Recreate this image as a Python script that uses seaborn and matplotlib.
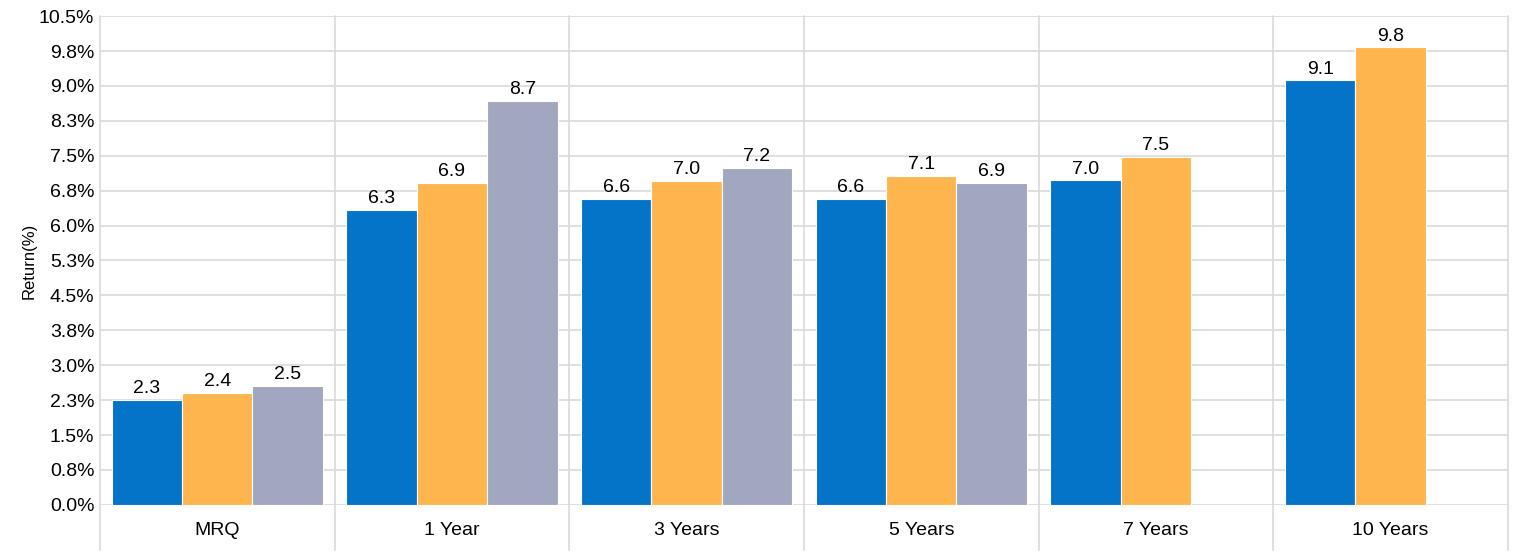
import numpy as np
import pandas as pd
import matplotlib
matplotlib.use("Agg")
import matplotlib.pyplot as plt
import seaborn as sns

periods = ["MRQ", "1 Year", "3 Years", "5 Years", "7 Years", "10 Years"]
series_names = ["A", "B", "C"]
series_a = [2.26, 6.34, 6.58, 6.58, 6.97, 9.12]
series_b = [2.41, 6.92, 6.96, 7.06, 7.47, 9.83]
series_c = [2.55, 8.68, 7.24, 6.92, np.nan, np.nan]
colors = ["#0474C8", "#FFB54D", "#A0A7BF"]

rows = []
for name, vals in zip(series_names, [series_a, series_b, series_c]):
    for p, v in zip(periods, vals):
        rows.append({"period": p, "series": name, "value": v})
df = pd.DataFrame(rows)

sns.set_style("white")
plt.rcParams['font.family'] = ['Liberation Sans', 'DejaVu Sans']
plt.rcParams['text.color'] = 'black'

fig = plt.figure(figsize=(15.14, 5.56), dpi=100)
ax = fig.add_axes([0.066, 0.092, 0.93, 0.879])
sns.barplot(data=df, x="period", y="value", hue="series", order=periods,
            hue_order=series_names, palette=colors, width=0.9, saturation=1,
            edgecolor="white", linewidth=0.8, legend=False, ax=ax)

for c in ax.containers:
    ax.bar_label(c, fmt="%.1f", fontsize=14, padding=2, color="black")

ticks = np.arange(0, 10.51, 0.75)
ax.set_yticks(ticks)
ax.set_yticklabels([f"{np.floor(t * 10 + 0.5) / 10:.1f}%" for t in ticks], fontsize=14, color="black")
ax.set_ylim(0, 10.5)
ax.set_xlim(-0.5, 5.5)
ax.yaxis.grid(True, color="#d9d9d9", linewidth=1.2)
ax.set_axisbelow(True)
for x in np.arange(-0.5, 5.6, 1):
    ax.axvline(x, ymin=-0.092, ymax=1, color="#d9d9d9", linewidth=1.2, clip_on=False, zorder=0)
for s in ax.spines.values():
    s.set_visible(False)
ax.tick_params(axis="x", labelsize=14, length=0, pad=12, labelcolor="black")
ax.tick_params(axis="y", length=0, pad=4)
ax.set_xlabel("")
ax.set_ylabel("Return(%)", fontsize=12, color="black", labelpad=2)
fig.savefig("out.png", dpi=100)
